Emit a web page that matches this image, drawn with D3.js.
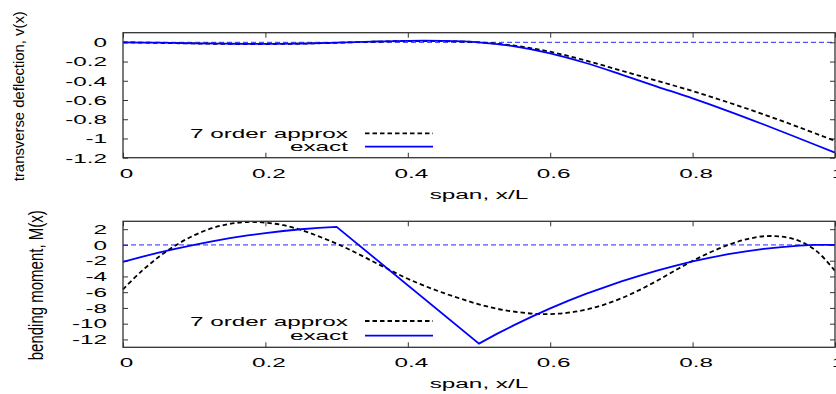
<!DOCTYPE html>
<html><head><meta charset="utf-8">
<script src="https://cdn.jsdelivr.net/npm/d3@7"></script>
<style>
body{margin:0;background:#fff}
svg{display:block}
text{font-family:"Liberation Sans",Arial,Helvetica,sans-serif;fill:#000}
</style>
</head><body>
<svg id="c" width="836" height="394"></svg>
<script>
// ---------- data ----------
const xTicks = [0, 0.2, 0.4, 0.6, 0.8, 1];
const xTickLabels = ["0", "0.2", "0.4", "0.6", "0.8", "1"];
const vTicks = [0, -0.2, -0.4, -0.6, -0.8, -1, -1.2];
const vTickLabels = ["0", "-0.2", "-0.4", "-0.6", "-0.8", "-1", "-1.2"];
const mTicks = [2, 0, -2, -4, -6, -8, -10, -12];
const mTickLabels = ["2", "0", "-2", "-4", "-6", "-8", "-10", "-12"];
const seriesNames = ["7 order approx", "exact"];

// transverse deflection v(x)
const vX = [0,0.05,0.1,0.15,0.2,0.25,0.3,0.35,0.4,0.45,0.5,0.55,0.6,0.65,0.7,0.75,0.8,0.85,0.9,0.95,1];
const vApprox = [0,-0.006,-0.012,-0.017,-0.018,-0.014,-0.005,0.006,0.013,0.012,0,-0.035,-0.098,-0.19,-0.295,-0.4,-0.507,-0.625,-0.75,-0.885,-1.025];
const vExact  = [0,-0.004,-0.01,-0.015,-0.017,-0.013,-0.004,0.008,0.016,0.015,0,-0.042,-0.115,-0.215,-0.335,-0.46,-0.583,-0.715,-0.855,-1.0,-1.147];

// bending moment M(x)
const mApproxX = [0,0.025,0.05,0.075,0.1,0.125,0.15,0.175,0.2,0.225,0.25,0.275,0.3,0.325,0.35,0.375,0.4,0.425,0.45,0.475,0.5,0.525,0.55,0.575,0.6,0.625,0.65,0.675,0.7,0.725,0.75,0.775,0.8,0.825,0.85,0.875,0.9,0.925,0.95,0.975,1];
const mApprox = [-5.63,-3.42,-1.54,0.0,1.23,2.12,2.68,2.91,2.83,2.5,1.9,1.08,0.17,-0.9,-2.05,-3.2,-4.3,-5.25,-6.1,-6.85,-7.55,-8.1,-8.48,-8.72,-8.78,-8.61,-8.22,-7.6,-6.77,-5.74,-4.55,-3.27,-2.03,-0.93,0.0,0.7,1.1,1.05,0.5,-0.85,-3.3];
const mExactX = [0,0.025,0.05,0.075,0.1,0.125,0.15,0.175,0.2,0.225,0.25,0.275,0.3,0.5,0.525,0.55,0.575,0.6,0.625,0.65,0.675,0.7,0.725,0.75,0.775,0.8,0.825,0.85,0.875,0.9,0.925,0.95,0.97,1];
const mExact = [-2.16,-1.55,-0.97,-0.46,0.02,0.45,0.85,1.2,1.5,1.77,1.99,2.17,2.29,-12.53,-11.3,-10.15,-9.07,-8.05,-7.1,-6.22,-5.41,-4.64,-3.93,-3.27,-2.66,-2.1,-1.62,-1.18,-0.82,-0.5,-0.27,-0.1,0,0];

// ---------- drawing ----------
const svg = d3.select("#c");
svg.append("rect").attr("width", 836).attr("height", 394).attr("fill", "#fff");
const SX = 1.8;          // horizontal stretch of the text
const FS = 13.5;
const LFS = 13, LSX = 1.87;
const frameColor = "#333";
const x = d3.scaleLinear().domain([0, 1]).range([123, 835]);

function panel(p) {
  const y = d3.scaleLinear().domain(p.yDomain).range([p.bottom, p.top]);
  const g = svg.append("g");

  // zero axis
  g.append("line")
    .attr("x1", x(0)).attr("x2", x(1))
    .attr("y1", y(0)).attr("y2", y(0))
    .attr("stroke", "#2828ff").attr("stroke-width", 1)
    .attr("stroke-dasharray", "5,3");

  const style = sel => {
    sel.select(".domain").remove();
    sel.selectAll(".tick line").attr("stroke", frameColor).attr("stroke-width", 1);
  };

  // bottom axis with labels
  const gb = g.append("g").attr("transform", `translate(0,${p.bottom})`)
    .call(d3.axisBottom(x).tickValues(xTicks).tickSize(-5).tickPadding(10.5)
      .tickFormat((d, i) => xTickLabels[i]))
    .call(style);
  gb.selectAll(".tick text")
    .attr("font-size", FS).attr("font-family", null).attr("fill", "#000")
    .attr("dx", 3 / SX)
    .attr("transform", `scale(${SX},1)`);
  // top mirror
  g.append("g").attr("transform", `translate(0,${p.top})`)
    .call(d3.axisTop(x).tickValues(xTicks).tickSize(-5).tickFormat(""))
    .call(style);

  // left axis with labels
  const gl = g.append("g").attr("transform", `translate(${x(0)},0)`)
    .call(d3.axisLeft(y).tickValues(p.ticks).tickSize(-5).tickPadding(16)
      .tickFormat((d, i) => p.tickLabels[i]))
    .call(style);
  gl.selectAll(".tick text")
    .attr("font-size", FS).attr("font-family", null).attr("fill", "#000")
    .attr("x", -16 / SX)
    .attr("transform", `scale(${SX},1)`);
  // right mirror
  g.append("g").attr("transform", `translate(${x(1)},0)`)
    .call(d3.axisRight(y).tickValues(p.ticks).tickSize(-5).tickFormat(""))
    .call(style);

  // curves
  const approx = p.approxX.map((d, i) => [d, p.approxY[i]]);
  const exact = p.exactX.map((d, i) => [d, p.exactY[i]]);
  const lineA = d3.line().x(d => x(d[0])).y(d => y(d[1])).curve(d3.curveCatmullRom.alpha(0.5));
  const lineE = d3.line().x(d => x(d[0])).y(d => y(d[1])).curve(p.exactCurve);
  g.append("path").attr("d", lineA(approx))
    .attr("fill", "none").attr("stroke", "#000").attr("stroke-width", 1.8)
    .attr("stroke-dasharray", "4.5,3");
  g.append("path").attr("d", lineE(exact))
    .attr("fill", "none").attr("stroke", "#0000ff").attr("stroke-width", 1.8);

  // frame
  g.append("rect").attr("x", x(0)).attr("y", p.top)
    .attr("width", x(1) - x(0)).attr("height", p.bottom - p.top)
    .attr("fill", "none").attr("stroke", frameColor).attr("stroke-width", 1.3);

  // legend
  const leg = [
    {name: seriesNames[0], dy: p.legY[0], stroke: "#000", dash: "4.5,3"},
    {name: seriesNames[1], dy: p.legY[1], stroke: "#0000ff", dash: null}
  ];
  leg.forEach(l => {
    g.append("text").attr("transform", `translate(348,${l.dy + 4.5}) scale(${LSX},1)`)
      .attr("text-anchor", "end").attr("font-size", LFS).text(l.name);
    g.append("line").attr("x1", 365).attr("x2", 433).attr("y1", l.dy).attr("y2", l.dy)
      .attr("stroke", l.stroke).attr("stroke-width", 1.8)
      .attr("stroke-dasharray", l.dash);
  });

  // x label
  g.append("text").attr("transform", `translate(479,${p.bottom + 41}) scale(${SX},1)`)
    .attr("text-anchor", "middle").attr("font-size", FS).text("span, x/L");

  // y label
  g.append("text")
    .attr("transform", `translate(${p.ylabX},${(p.top + p.bottom) / 2 + 1}) rotate(-90) scale(1,${p.ylabS})`)
    .attr("text-anchor", "middle").attr("font-size", 14.5)
    .attr("textLength", p.ylabLen).attr("lengthAdjust", "spacingAndGlyphs")
    .text(p.ylabel);
}

panel({
  top: 32.7, bottom: 157.7, yDomain: [-1.2, 0.1],
  ticks: vTicks, tickLabels: vTickLabels,
  approxX: vX, approxY: vApprox, exactX: vX, exactY: vExact,
  exactCurve: d3.curveCatmullRom.alpha(0.5),
  legY: [133.3, 146.7],
  ylabel: "transverse deflection, v(x)", ylabX: 23.5, ylabLen: 170, ylabS: 1.0
});
panel({
  top: 221.3, bottom: 347.3, yDomain: [-13, 3],
  ticks: mTicks, tickLabels: mTickLabels,
  approxX: mApproxX, approxY: mApprox, exactX: mExactX, exactY: mExact,
  exactCurve: d3.curveLinear,
  legY: [321, 335.7],
  ylabel: "bending moment, M(x)", ylabX: 43, ylabLen: 150, ylabS: 1.4
});
</script>
</body></html>
